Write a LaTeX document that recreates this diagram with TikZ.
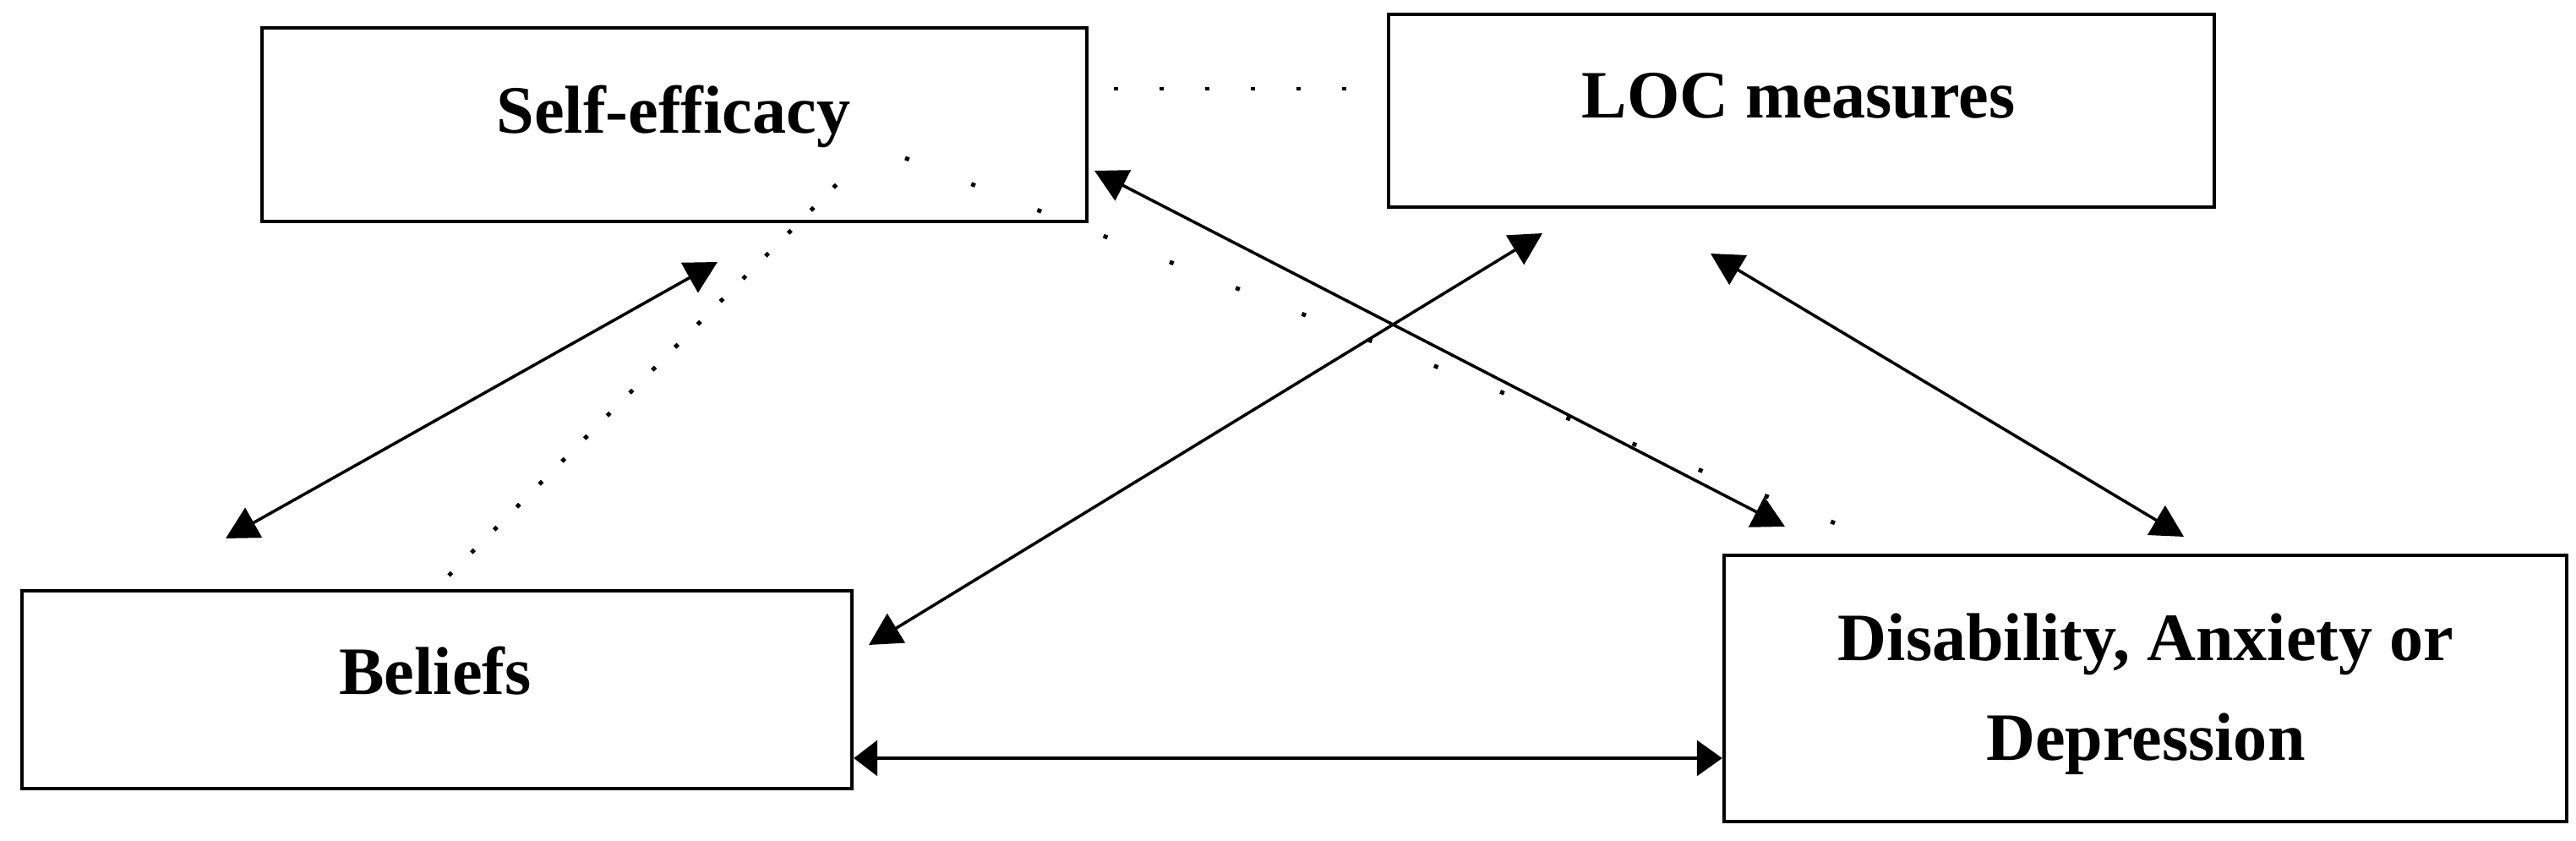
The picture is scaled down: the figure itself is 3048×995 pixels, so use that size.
\documentclass[tikz,border=0pt]{standalone}
\usepackage{fontspec}
\setmainfont{Liberation Serif}
\usetikzlibrary{arrows.meta}
\begin{document}
\begin{tikzpicture}[x=0.01cm,y=-0.01cm,
  box/.style={draw=black,line width=1.1pt,rectangle,inner sep=0pt,fill=white},
  lbl/.style={anchor=base,inner sep=0pt,font=\fontsize{22.8pt}{33.6pt}\selectfont\bfseries},
  arr/.style={line width=1pt,{Triangle[length=0.38cm,width=0.4cm]}-{Triangle[length=0.38cm,width=0.4cm]}},
  harr/.style={line width=1pt,{Triangle[length=0.28cm,width=0.42cm]}-{Triangle[length=0.3cm,width=0.42cm]}},
  dotA/.style={line width=1.4pt,dash pattern=on 0.05cm off 0.49cm},
  dotB/.style={line width=1.4pt,dash pattern=on 0.05cm off 0.33cm},
  dotC/.style={line width=1.4pt,dash pattern=on 0.05cm off 0.79cm}]
\useasboundingbox (0,0) rectangle (3048,995);
\fill[white] (0,0) rectangle (3048,995);

% boxes
\node[box,minimum width=9.76cm,minimum height=2.29cm] (se)  at (798,147.5) {};
\node[box,minimum width=9.77cm,minimum height=2.28cm] (loc) at (2131.5,131) {};
\node[box,minimum width=9.82cm,minimum height=2.34cm] (bel) at (517,816) {};
\node[box,minimum width=9.97cm,minimum height=3.15cm] (dis) at (2538.5,814.5) {};

% labels
\node[lbl] (seT)  at (797,158)  {Self-efficacy};
\node[lbl] (locT) at (2128,140) {LOC measures};
\node[lbl] (belT) at (515,822)  {Beliefs};
\node[lbl] (disT1) at (2539,782) {Disability, Anxiety or};
\node[lbl] (disT2) at (2539,900) {Depression};

% dotted lines
\coordinate (d1a) at (1318,105);
\coordinate (d1b) at (1600,105);
\draw[dotA] (d1a) -- (d1b);
\coordinate (d2a) at (531,681);
\coordinate (d2b) at (996,212);
\draw[dotB] (d2a) -- (d2b);
\coordinate (d3a) at (1071,187);
\coordinate (d3b) at (2240,646);
\draw[dotC] (d3a) -- (d3b);

% arrow ends
\coordinate (aBel) at (267,637);
\coordinate (aSe)  at (849,310);
\coordinate (bBel) at (1028,763);
\coordinate (bLoc) at (1825,276);
\coordinate (cSe)  at (1295,202);
\coordinate (cDis) at (2112,623);
\coordinate (dLoc) at (2024,300);
\coordinate (dDis) at (2584,635);
\coordinate (hy)   at (1500,897);

\draw[arr] (aBel) -- (aSe);
\draw[arr] (bBel) -- (bLoc);
\draw[arr] (cSe) -- (cDis);
\draw[arr] (dLoc) -- (dDis);
\draw[harr] (bel.east |- hy) -- (dis.west |- hy);
\end{tikzpicture}
\end{document}
